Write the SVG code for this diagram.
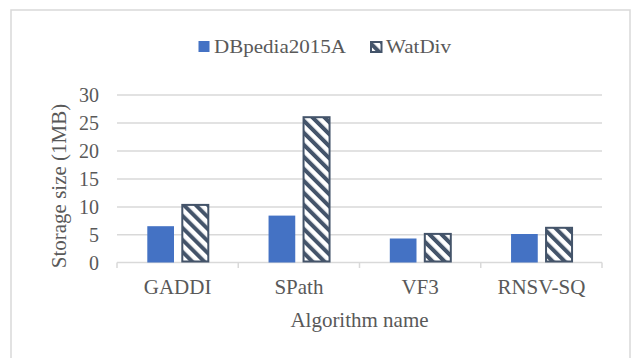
<svg xmlns="http://www.w3.org/2000/svg" width="631" height="358" viewBox="0 0 631 358">
<defs>
<pattern id="hatch" width="8.5" height="8.5" patternUnits="userSpaceOnUse" patternTransform="rotate(-45)">
<rect x="0" y="0" width="8.5" height="8.5" fill="#ffffff"/>
<rect x="0" y="0" width="4" height="8.5" fill="#44546A"/>
</pattern>
</defs>
<style>
.grid{stroke:#d9d9d9;stroke-width:1.5;fill:none}
.t{font-family:"Liberation Serif","Times New Roman",serif;fill:#595959}
.tick{font-size:20px;text-anchor:end}
.cat{font-size:21px;text-anchor:middle}
.blue{fill:#4472C4}
.hat{fill:url(#hatch);stroke:#44546A;stroke-width:2}
</style>
<rect x="0" y="0" width="631" height="358" fill="#ffffff"/>
<rect x="11" y="10" width="619" height="360" fill="#ffffff" stroke="#d9d9d9" stroke-width="1.5"/>
<g id="gridlines">
<line class="grid" x1="117" y1="95" x2="602" y2="95"/>
<line class="grid" x1="117" y1="123" x2="602" y2="123"/>
<line class="grid" x1="117" y1="151" x2="602" y2="151"/>
<line class="grid" x1="117" y1="179" x2="602" y2="179"/>
<line class="grid" x1="117" y1="207" x2="602" y2="207"/>
<line class="grid" x1="117" y1="234.7" x2="602" y2="234.7"/>
</g>
<g id="axis">
<line class="grid" x1="117" y1="262.5" x2="602" y2="262.5"/>
<line class="grid" x1="117" y1="262.5" x2="117" y2="268"/>
<line class="grid" x1="238.25" y1="262.5" x2="238.25" y2="268"/>
<line class="grid" x1="359.5" y1="262.5" x2="359.5" y2="268"/>
<line class="grid" x1="480.75" y1="262.5" x2="480.75" y2="268"/>
<line class="grid" x1="602" y1="262.5" x2="602" y2="268"/>
</g>
<g id="ticks">
<text class="t tick" x="99" y="102">30</text>
<text class="t tick" x="99" y="130">25</text>
<text class="t tick" x="99" y="158">20</text>
<text class="t tick" x="99" y="186">15</text>
<text class="t tick" x="99" y="214">10</text>
<text class="t tick" x="99" y="241.7">5</text>
<text class="t tick" x="99" y="269.5">0</text>
</g>
<g id="bars-dbpedia">
<rect class="blue" x="147.3" y="226.2" width="26.7" height="36.3"/>
<rect class="blue" x="268.55" y="215.6" width="26.7" height="46.9"/>
<rect class="blue" x="389.8" y="238.5" width="26.7" height="24"/>
<rect class="blue" x="511.05" y="234" width="26.7" height="28.5"/>
</g>
<g id="bars-watdiv">
<rect class="hat" x="182.3" y="204.9" width="26" height="56.6"/>
<rect class="hat" x="303.55" y="117.2" width="26" height="144.3"/>
<rect class="hat" x="424.8" y="233.9" width="26" height="27.6"/>
<rect class="hat" x="546.05" y="227.8" width="26" height="33.7"/>
</g>
<g id="categories">
<text class="t cat" x="177.6" y="294">GADDI</text>
<text class="t cat" x="298.9" y="294">SPath</text>
<text class="t cat" x="420.1" y="294">VF3</text>
<text class="t cat" x="541.4" y="294">RNSV-SQ</text>
</g>
<text class="t cat" x="359.5" y="327">Algorithm name</text>
<text class="t" font-size="21" text-anchor="middle" transform="translate(66,186) rotate(-90)">Storage size (1MB)</text>
<g id="legend">
<rect class="blue" x="198.5" y="41" width="11" height="11"/>
<text class="t" font-size="18" x="214" y="52.5" textLength="132" lengthAdjust="spacingAndGlyphs">DBpedia2015A</text>
<rect x="371" y="42" width="10.5" height="10" fill="url(#hatch)" stroke="#44546A" stroke-width="2"/>
<text class="t" font-size="18" x="386" y="52.5" textLength="65" lengthAdjust="spacingAndGlyphs">WatDiv</text>
</g>
</svg>
